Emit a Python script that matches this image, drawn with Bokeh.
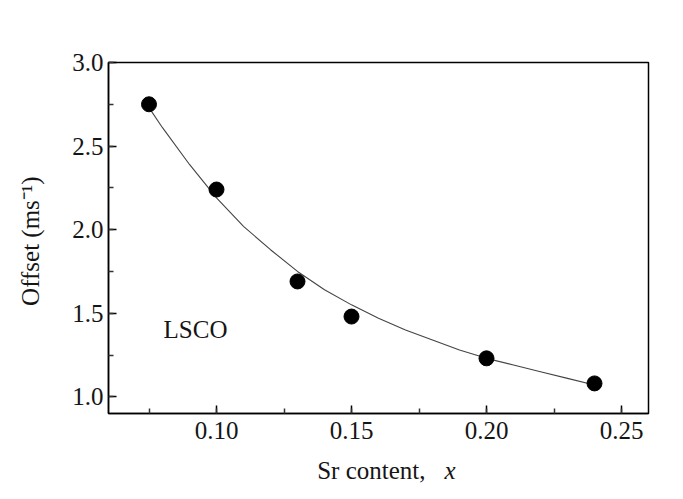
from bokeh.plotting import figure
from bokeh.models import Range1d, Label, SingleIntervalTicker, PrintfTickFormatter
from bokeh.layouts import column
from bokeh.core.properties import value
from bokeh.embed import file_html
from bokeh.resources import INLINE

# data points
sr_x = [0.075, 0.10, 0.13, 0.15, 0.20, 0.24]
offset_y = [2.75, 2.24, 1.69, 1.48, 1.23, 1.08]

# fitted curve
fit_x = [0.075, 0.08, 0.09, 0.10, 0.11, 0.12, 0.13, 0.14, 0.15, 0.16, 0.17, 0.18, 0.19, 0.20, 0.21, 0.22, 0.23, 0.24]
fit_y = [2.73, 2.61, 2.39, 2.19, 2.02, 1.88, 1.75, 1.64, 1.55, 1.47, 1.40, 1.34, 1.28, 1.23, 1.19, 1.15, 1.11, 1.07]

x_label_main = "Sr content,"
x_label_var = "x"
y_label = "Offset  (ms\u207b\u00b9)"
sample_name = "LSCO"

FONT = "Liberation Serif"
FS = "25px"
TXT = "#151515"

xr = Range1d(0.06, 0.26)
p = figure(width=668, height=450, frame_width=540, frame_height=351,
           x_range=xr, y_range=Range1d(0.9, 3.0),
           output_backend="svg", toolbar_location=None,
           min_border_left=108, min_border_top=62, min_border_right=20, min_border_bottom=37)
p.background_fill_color = "white"
p.border_fill_color = "white"
p.grid.visible = False
p.outline_line_color = "black"
p.outline_line_width = 1.5

p.line(fit_x, fit_y, line_color="#444444", line_width=1.1)
p.scatter(sr_x, offset_y, size=15, fill_color="black", line_color="black")

p.xaxis.ticker = SingleIntervalTicker(interval=0.05, num_minor_ticks=2)
p.yaxis.ticker = SingleIntervalTicker(interval=0.5, num_minor_ticks=2)
p.xaxis.formatter = PrintfTickFormatter(format="%.2f")
p.yaxis.formatter = PrintfTickFormatter(format="%.1f")

for ax in (p.xaxis[0], p.yaxis[0]):
    ax.major_tick_in = 8
    ax.major_tick_out = 0
    ax.minor_tick_in = 5
    ax.minor_tick_out = 0
    ax.axis_line_color = "black"
    ax.axis_line_width = 1.5
    ax.major_tick_line_width = 1.5
    ax.minor_tick_line_width = 1.5
    ax.minor_tick_line_color = "#333333"
    ax.major_label_text_font = FONT
    ax.major_label_text_font_size = FS
    ax.major_label_text_color = TXT
    ax.axis_label_text_font = FONT
    ax.axis_label_text_font_size = FS
    ax.axis_label_text_font_style = "normal"
    ax.axis_label_text_color = TXT

p.xaxis.major_label_standoff = 8
p.yaxis.major_label_standoff = 5
p.yaxis.axis_label = y_label
p.yaxis.axis_label_standoff = 25

p.add_layout(Label(x=0.0804, y=1.40, text=sample_name, text_align="left", text_baseline="middle",
                   text_font=FONT, text_font_size=FS, text_color=TXT))

# x-axis label strip (keeps the italic variable as real text)
q = figure(width=668, height=40, frame_width=540, frame_height=40,
           x_range=xr, y_range=Range1d(0, 1),
           output_backend="svg", toolbar_location=None,
           min_border_left=108, min_border_top=0, min_border_right=20, min_border_bottom=0)
q.axis.visible = False
q.grid.visible = False
q.outline_line_color = None
q.background_fill_color = "white"
q.border_fill_color = "white"
q.text(x=[0.1774], y=[0.5], text=[x_label_main], text_align="right", text_baseline="middle",
       text_font=value(FONT), text_font_size=FS, text_color=TXT)
q.text(x=[0.1844], y=[0.5], text=[x_label_var], text_align="left", text_baseline="middle",
       text_font=value(FONT), text_font_size=FS, text_font_style="italic", text_color=TXT)

layout = column(p, q, spacing=0)
open("out.html", "w").write(file_html(layout, INLINE))
